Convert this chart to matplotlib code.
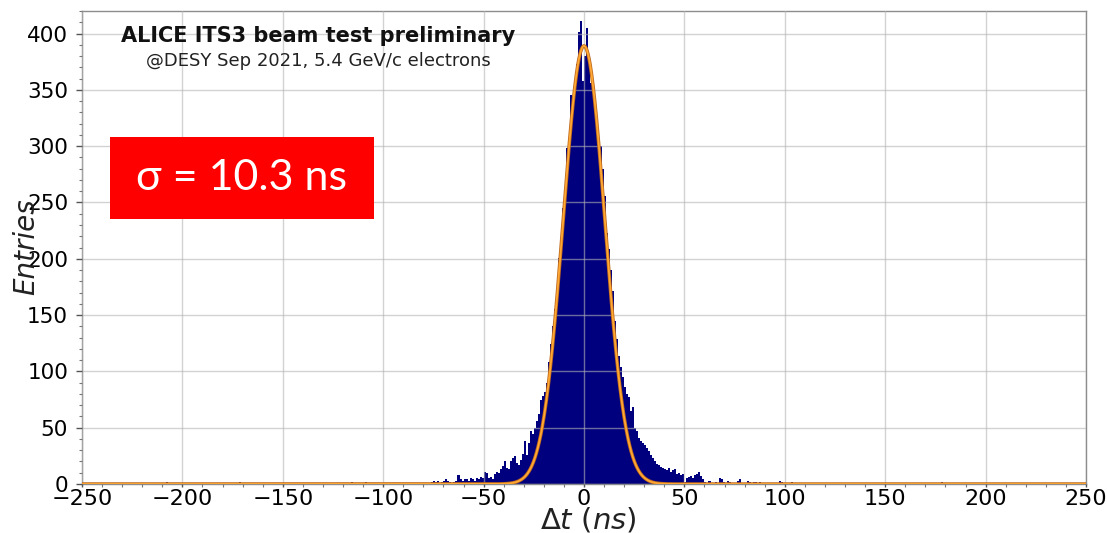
"""
Timing residual histogram with gaussian fit (ALICE ITS3 beam test)
"""

### Import modules
import numpy as np
import matplotlib
matplotlib.use('Agg')
import matplotlib.pyplot as plt
from matplotlib.ticker import AutoMinorLocator
from matplotlib.patches import Rectangle

### Histogram data (1 ns bins), core region starts at -80 ns
core_start = -80
core_counts = [0, 1, 0, 1, 2, 3, 2, 3, 1, 2,
               3, 4, 3, 2, 1, 2, 3, 8, 4, 3,
               4, 4, 3, 5, 4, 3, 5, 4, 6, 5,
               11, 10, 5, 6, 4, 9, 11, 10, 13, 16,
               20, 14, 13, 20, 23, 25, 19, 17, 21, 27,
               38, 26, 36, 47, 44, 50, 56, 62, 75, 78,
               82, 90, 108, 124, 140, 155, 172, 201, 214, 245,
               262, 298, 300, 345, 339, 356, 373, 401, 411, 358,
               380, 405, 374, 356, 347, 336, 318, 302, 300, 280,
               256, 223, 209, 190, 171, 145, 129, 114, 104, 95,
               86, 80, 77, 65, 68, 50, 47, 41, 38, 36,
               35, 32, 29, 26, 23, 20, 18, 17, 15, 14,
               13, 12, 14, 11, 12, 13, 9, 10, 8, 9,
               2, 5, 6, 7, 5, 8, 9, 11, 7, 4,
               2, 1, 3, 1, 0, 2, 1, 5, 4, 2,
               1, 3, 2, 1, 0, 1, 3, 4, 1, 0,
               1, 3, 2, 1, 2, 2, 1, 2, 0, 1,
               0, 0, 1, 0, 0, 0, 1, 3, 2, 0]

### Isolated entries far from the peak
outlier_bins = [-208, -172, -116, -109, -98, 103, 121, 131, 178]
outlier_counts = [2, 2, 2, 2, 1, 2, 1, 1, 2]

### Gaussian fit parameters
fit_amp = 389.
fit_mean = 0.0
fit_sigma = 10.3

xticks = np.arange(-250, 251, 50)
yticks = np.arange(0, 401, 50)

### Fill full histogram
edges = np.arange(-250, 251, 1)
counts = np.zeros(len(edges) - 1)
i0 = core_start - edges[0]
counts[i0:i0 + len(core_counts)] = core_counts
for b, c in zip(outlier_bins, outlier_counts):
    counts[b - edges[0]] += c

plt.rcParams['mathtext.fontset'] = 'dejavusans'

###############################################################################
### Plot figure
fig = plt.figure(figsize=(11.07, 5.33), dpi=100)
W, H = 1107., 533.
ax = fig.add_axes([82/W, 49/H, 1004/W, 473/H])

ax.stairs(counts, edges, fill=True, color='#00007f', zorder=1)
ax.grid(True, which='major', color='#b4b4b4', alpha=0.6, linewidth=1.0,
        zorder=2)
ax.set_axisbelow(False)

xf = np.linspace(-250, 250, 2001)
yf = fit_amp*np.exp(-0.5*((xf - fit_mean)/fit_sigma)**2)
ax.plot(xf, yf, color='#c06a1c', linewidth=2.5, zorder=3)
ax.plot(xf, yf, color='#ffa834', linewidth=1.3, zorder=4)

ax.set_xlim(-250, 250)
ax.set_ylim(0, 420)
ax.set_xticks(xticks)
ax.set_yticks(yticks)
ax.xaxis.set_minor_locator(AutoMinorLocator(5))
ax.yaxis.set_minor_locator(AutoMinorLocator(5))
ax.tick_params('both', which='major', direction='out', width=1,
               color='#555555')
ax.tick_params('both', which='minor', direction='out', width=0.8,
               color='#777777')
ax.tick_params('y', which='major', length=4, pad=6, labelsize=15.5)
ax.tick_params('y', which='minor', length=2.5)
ax.tick_params('x', which='major', length=2.5, pad=1, labelsize=16)
ax.tick_params('x', which='minor', length=1.8)
for sp in ax.spines.values():
    sp.set_color('#8c8c8c')
    sp.set_linewidth(1.0)

### Axis labels
fig.text(588/W, 1 - 528/H, r'$\Delta t\ (ns)$', fontsize=21, ha='center',
         va='baseline', color='#222222')
fig.text(26/W, 1 - 247/H, 'Entries', fontsize=20, style='italic',
         rotation=90, ha='center', va='center', color='#222222')

### Labels inside plot
fig.text(318/W, 1 - 36/H, 'ALICE ITS3 beam test preliminary', fontsize=15,
         fontweight='bold', ha='center', va='center', color='#111111')
fig.text(318/W, 1 - 61/H, '@DESY Sep 2021, 5.4 GeV/c electrons',
         fontsize=13, ha='center', va='center', color='#222222')

fig.patches.append(Rectangle((110/W, 1 - 219/H), 264/W, 82/H,
                             transform=fig.transFigure, facecolor='#ff0000',
                             edgecolor='none', zorder=5))
fig.text(241/W, 1 - 178/H, 'σ = 10.3 ns', fontsize=31,
         family=['Lato', 'Open Sans', 'DejaVu Sans'], color='white',
         ha='center', va='center', zorder=6)

plt.savefig('out.png', dpi=100)
